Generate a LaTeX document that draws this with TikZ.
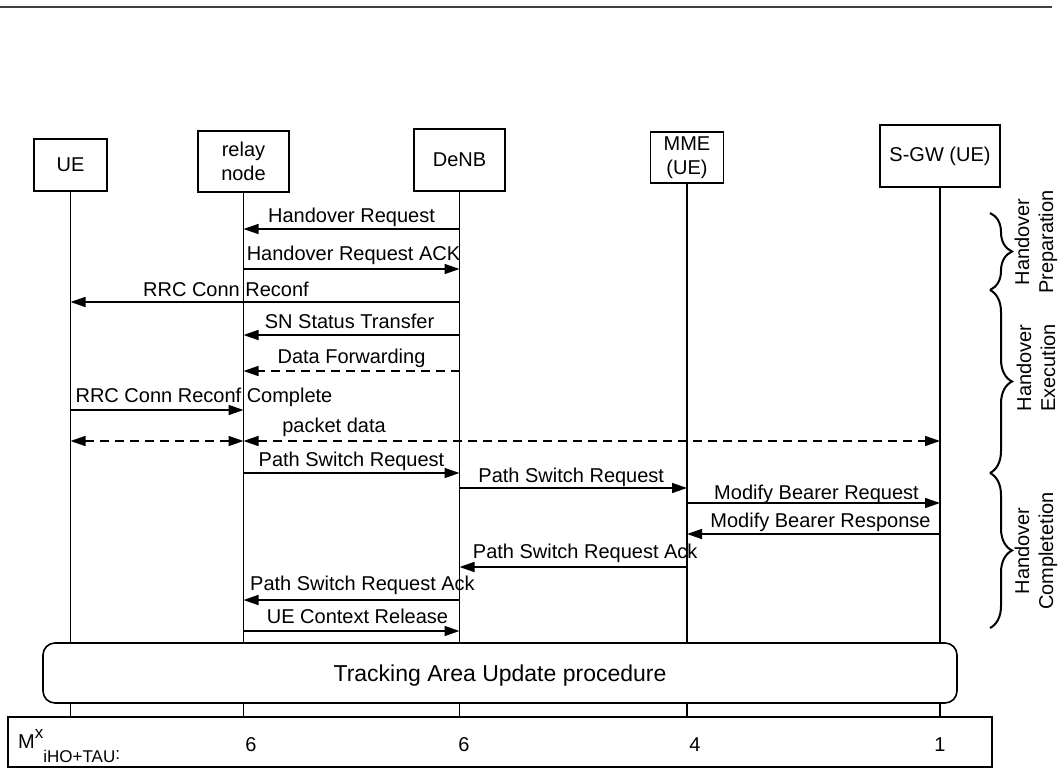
\documentclass[tikz,border=0pt]{standalone}
\usepackage{fontspec}
\setmainfont{Liberation Sans}
\usepackage{tikz}
\usetikzlibrary{positioning}
\usetikzlibrary{arrows.meta}
\usetikzlibrary{decorations.pathreplacing}

\begin{document}
\begin{tikzpicture}[x=1pt,y=-1pt,
  font=\fontsize{20}{24}\selectfont,
  >={Triangle[length=15pt,width=10pt]},
  ent/.style={draw,rectangle,line width=1.6pt,align=center,inner sep=0pt},
  life/.style={line width=1.6pt},
  msg/.style={line width=1.5pt,->},
  data/.style={line width=1.5pt,<->,dash pattern=on 9pt off 6pt},
  lbl/.style={anchor=base,yshift=7pt,inner sep=0pt},
  phase/.style={decorate,decoration={brace,amplitude=22pt,aspect=0.5},line width=2pt},
  phaselbl/.style={rotate=90,align=center,inner sep=0pt}]
\useasboundingbox (0,0) rectangle (1061,768);

%rule on top
\draw [line width=2.2pt,black!75] (0,7) -- (1052,7);

%header boxes
\node (UE) at (70.5,165) [ent,minimum width=73,minimum height=52] {UE};
\node (relay) at (243.5,161.5) [ent,minimum width=91,minimum height=61] {relay\\node};
\node (DeNB) at (459.5,160) [ent,minimum width=91,minimum height=62] {DeNB};
\node (MME) at (687,157.5) [ent,minimum width=73,minimum height=51] {MME\\(UE)};
\node (SGW) at (940,156) [ent,minimum width=120,minimum height=62] {S-GW (UE)};

%bottom table
\node (tbl) at (500,742) [ent,minimum width=984,minimum height=50] {};

%lifelines
\foreach \n in {UE,relay,DeNB,MME,SGW}{
  \draw [life] (\n.south) -- (\n |- tbl.north);
}

%handover preparation
\draw [msg] (DeNB |- 0,229) -- node[lbl] {Handover Request} (relay |- 0,229);
\draw [msg] (relay |- 0,269) -- node[lbl,xshift=2,yshift=2] {Handover Request ACK} (DeNB |- 0,269);
\draw [msg] (DeNB |- 0,302) -- node[lbl,xshift=-39,yshift=-1] {RRC Conn Reconf} (UE |- 0,302);

%handover execution
\draw [msg] (DeNB |- 0,335) -- node[lbl,xshift=-2] {SN Status Transfer} (relay |- 0,335);
\draw [msg,dash pattern=on 9pt off 6pt] (DeNB |- 0,371) -- node[lbl,yshift=1] {Data Forwarding} (relay |- 0,371);
\draw [msg] (UE |- 0,410) -- node[lbl,xshift=47,yshift=1] {RRC Conn Reconf Complete} (relay |- 0,410);
\draw [data] (UE |- 0,441) -- (relay |- 0,441);
\draw [data] (relay |- 0,441) -- node[lbl,pos=0.13,yshift=2] {packet data} (SGW |- 0,441);

%handover completion
\draw [msg] (relay |- 0,473) -- node[lbl] {Path Switch Request} (DeNB |- 0,473);
\draw [msg] (DeNB |- 0,488) -- node[lbl,xshift=-2,yshift=-1] {Path Switch Request} (MME |- 0,488);
\draw [msg] (MME |- 0,503) -- node[lbl,xshift=3,yshift=-3] {Modify Bearer Request} (SGW |- 0,503);
\draw [msg] (SGW |- 0,534) -- node[lbl,xshift=7] {Modify Bearer Response} (MME |- 0,534);
\draw [msg] (MME |- 0,567) -- node[lbl,xshift=12,yshift=2] {Path Switch Request Ack} (DeNB |- 0,567);
\draw [msg] (DeNB |- 0,600) -- node[lbl,xshift=11,yshift=3] {Path Switch Request Ack} (relay |- 0,600);
\draw [msg] (relay |- 0,631) -- node[lbl,xshift=6,yshift=1] {UE Context Release} (DeNB |- 0,631);

%tracking area update
\node (tau) at (500,673) [ent,rounded corners=12pt,fill=white,minimum width=914,minimum height=60,text depth=0pt,font=\fontsize{23}{27}\selectfont] {Tracking Area Update procedure};

%phases
\coordinate (p0) at (990,213);
\coordinate (p1) at (990,290);
\coordinate (p2) at (990,473);
\coordinate (p3) at (990,628);
\draw [phase] (p0) -- (p1);
\draw [phase] (p1) -- (p2);
\draw [phase] (p2) -- (p3);
\node (prep) at (1036,242) [phaselbl] {Handover\\Preparation};
\node (exec) at (1036,368) [phaselbl] {Handover\\Execution};
\node (comp) at (1036,551) [phaselbl] {Handover\\Completetion};

%table values
\node (mx) at (18,748) [anchor=base west,inner sep=0pt] {M\raisebox{10pt}{\fontsize{17}{17}\selectfont x}\raisebox{-14pt}{\fontsize{17}{17}\selectfont iHO+TAU}{\fontsize{17}{17}\selectfont\raisebox{-11pt}{:}}};
\foreach \x/\v [count=\i] in {251/6,464/6,695/4,940/1}{
  \node (v\i) at (\x,751) [anchor=base,inner sep=0pt] {\v};
}
\end{tikzpicture}
\end{document}
